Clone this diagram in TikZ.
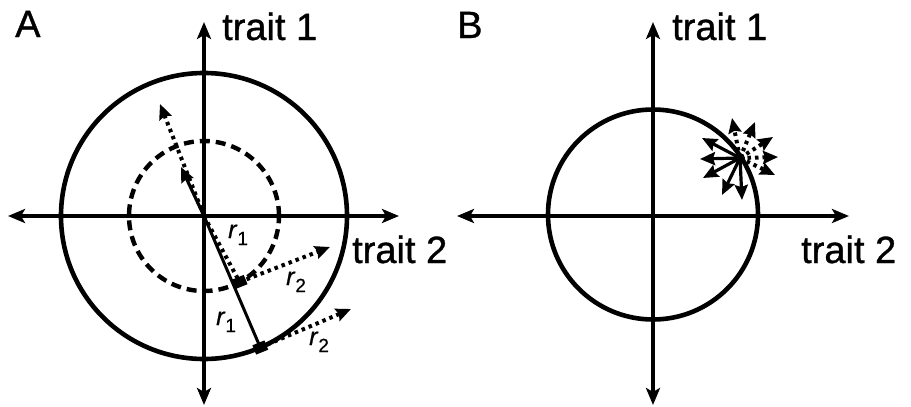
\documentclass[tikz,border=0pt]{standalone}
\usepackage{fontspec}
\setmainfont{Liberation Sans}
\newfontfamily\heavyfont{Liberation Sans}[FakeBold=0.9]
\newfontfamily\labfont{Liberation Sans}[FakeBold=0.6,ItalicFeatures={FakeBold=0.6}]
\usetikzlibrary{arrows.meta}
\begin{document}
\begin{tikzpicture}[x=1pt,y=-1pt,
  axhead/.tip={Stealth[length=17pt,width=14pt,inset=4pt]},
  smhead/.tip={Stealth[length=15pt,width=13pt,inset=2pt]},
  axis/.style={line width=3.3pt,axhead-axhead},
  ring/.style={line width=4.6pt},
  dashring/.style={line width=4.4pt,dash pattern=on 10pt off 6pt},
  solidvec/.style={line width=3pt},
  solidarr/.style={line width=3.2pt,-smhead},
  dotvec/.style={line width=4pt,dash pattern=on 3.5pt off 4pt},
  dotarr/.style={line width=4pt,dash pattern=on 3.5pt off 4pt,-smhead},
  sq/.style={rectangle,fill=black,inner sep=0pt,minimum width=13pt,minimum height=10pt},
  big/.style={inner sep=0pt,anchor=base west,font=\heavyfont\fontsize{38}{38}\selectfont},
  lab/.style={inner sep=0pt,anchor=base west,font=\labfont\fontsize{25}{25}\selectfont},
]
\path[use as bounding box,fill=white] (0,0) rectangle (911,407);

% ---------------- Panel A ----------------
\coordinate (OA) at (204,216);
\coordinate (AL) at (8,216);
\coordinate (AR) at (399,216);
\coordinate (AT) at (204,22);
\coordinate (AB) at (204,405);
\draw[axis] (AL) -- (AR);
\draw[axis] (AB) -- (AT);
\draw[ring] (OA) circle[radius=143pt];
\draw[dashring] (OA) circle[radius=75pt];

\coordinate (P1) at (260.3,347.5);
\coordinate (P2) at (239.6,282);
\coordinate (T1) at (181,167);
\coordinate (T2) at (160,104);
\coordinate (T3) at (330,247);
\coordinate (T4) at (351,309);

\draw[solidvec] (OA) -- (P1);
\draw[solidarr] (OA) -- (T1);
\draw[dotvec] (OA) -- (P2);
\draw[dotarr] (OA) -- (T2);
\draw[dotarr] (P2) -- (T3);
\draw[dotarr] (P1) -- (T4);
\node[sq,rotate=22] (S2) at (P2) {};
\node[sq,rotate=22] (S1) at (P1) {};

\node[lab] (LA1) at (228,238) {\textit{r}\raisebox{-7pt}{\fontsize{19}{19}\selectfont 1}};
\node[lab] (LA2) at (286,285) {\textit{r}\raisebox{-7pt}{\fontsize{19}{19}\selectfont 2}};
\node[lab] (LA3) at (216,325) {\textit{r}\raisebox{-7pt}{\fontsize{19}{19}\selectfont 1}};
\node[lab] (LA4) at (309,345) {\textit{r}\raisebox{-7pt}{\fontsize{19}{19}\selectfont 2}};

\node[big] (tA) at (15,37) {A};
\node[big] (tA1) at (222,40) {trait 1};
\node[big] (tA2) at (352,263) {trait 2};

% ---------------- Panel B ----------------
\coordinate (OB) at (653,216);
\coordinate (BL) at (457,216);
\coordinate (BR) at (849,216);
\coordinate (BT) at (653,22);
\coordinate (BB) at (653,405);
\draw[axis] (BL) -- (BR);
\draw[axis] (BB) -- (BT);
\draw[ring] (653,214.5) circle[radius=105pt];

\coordinate (Q) at (740,158);
\foreach \i/\x/\y in {1/702/138, 2/700/159, 3/703/178, 4/722/195, 5/742/200}{
  \coordinate (s\i) at (\x,\y);
  \draw[solidarr] (Q) -- (s\i);
}
\foreach \i/\x/\y in {1/732/118, 2/755/122, 3/773/137, 4/778/157, 5/775/175}{
  \coordinate (d\i) at (\x,\y);
  \draw[dotarr] (Q) -- (d\i);
}
\fill (Q) circle[radius=5pt];

\node[big] (tB) at (457,38) {B};
\node[big] (tB1) at (672,40) {trait 1};
\node[big] (tB2) at (801,263) {trait 2};
\end{tikzpicture}
\end{document}
